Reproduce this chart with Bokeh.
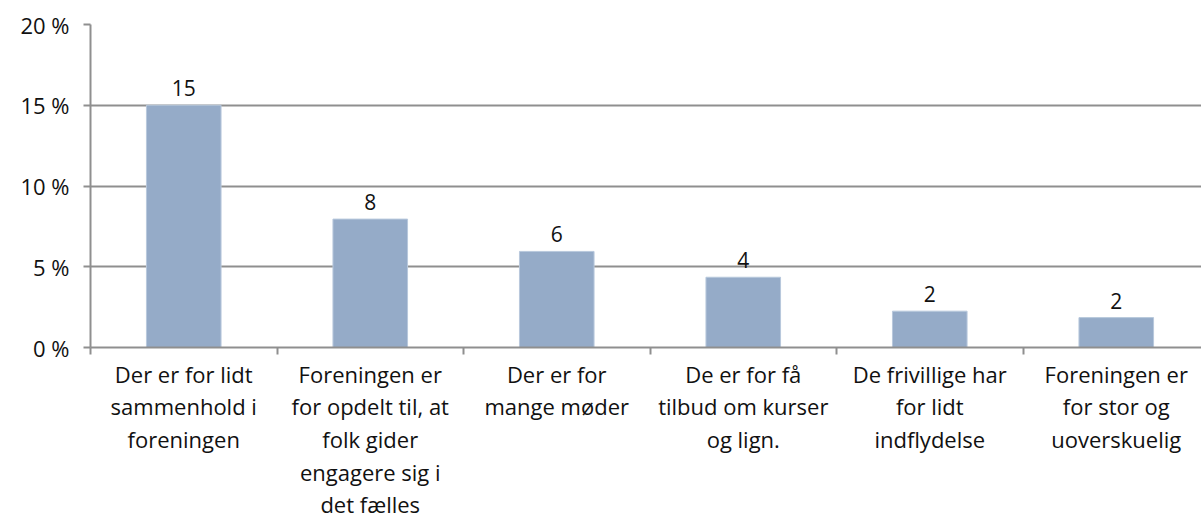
from bokeh.plotting import figure
from bokeh.models import Range1d, FixedTicker
from bokeh.core.properties import value
from bokeh.embed import file_html
from bokeh.resources import INLINE

categories = [
    "Der er for lidt\nsammenhold i\nforeningen",
    "Foreningen er\nfor opdelt til, at\nfolk gider\nengagere sig i\ndet fælles",
    "Der er for\nmange møder",
    "De er for få\ntilbud om kurser\nog lign.",
    "De frivillige har\nfor lidt\nindflydelse",
    "Foreningen er\nfor stor og\nuoverskuelig",
]
values = [15.0, 7.95, 5.95, 4.35, 2.25, 1.85]
y_ticks = [0, 5, 10, 15, 20]

FONT = "Open Sans"
GRID = "#8f8f8f"

n = len(categories)
xs = [i + 0.5 for i in range(n)]
labels = [str(int(round(v))) for v in values]

p = figure(width=1201, height=522, output_backend="svg", toolbar_location=None,
           x_range=Range1d(0, 5.957), y_range=Range1d(0, 20),
           min_border_left=90, min_border_top=24, min_border_right=0, min_border_bottom=160)
p.outline_line_color = None
p.xgrid.grid_line_color = None
p.ygrid.ticker = FixedTicker(ticks=[5, 10, 15, 20])
p.ygrid.grid_line_color = GRID
p.ygrid.grid_line_width = 2

p.vbar(x=xs, top=values, width=0.4, fill_color="#95abc8", line_color="#b8c8dc", line_width=1)
p.text(x=xs, y=values, text=labels, text_align="center", text_baseline="bottom",
       y_offset=-9, text_font=value(FONT), text_font_size="21px", text_color="#111111")

# x axis: labels at centres, tick marks at category boundaries
xa = p.xaxis[0]
xa.ticker = FixedTicker(ticks=xs, minor_ticks=list(range(n + 1)))
xa.major_label_overrides = {x: c for x, c in zip(xs, categories)}
xa.major_tick_line_color = None
xa.major_tick_out = 0
xa.major_tick_in = 0
xa.minor_tick_out = 7
xa.minor_tick_in = 0
xa.minor_tick_line_color = GRID
xa.minor_tick_line_width = 2
xa.axis_line_color = GRID
xa.axis_line_width = 2
xa.major_label_text_font = FONT
xa.major_label_text_font_size = "22px"
xa.major_label_text_color = "#111111"
xa.major_label_text_line_height = 1.09
xa.major_label_standoff = 4

ya = p.yaxis[0]
ya.ticker = FixedTicker(ticks=y_ticks, minor_ticks=[])
ya.major_label_overrides = {t: f"{t} %" for t in y_ticks}
ya.major_tick_out = 7
ya.major_tick_in = 0
ya.major_tick_line_color = GRID
ya.major_tick_line_width = 2
ya.axis_line_color = GRID
ya.axis_line_width = 2
ya.major_label_text_font = FONT
ya.major_label_text_font_size = "22px"
ya.major_label_text_color = "#111111"
ya.major_label_standoff = 14

open("out.html", "w").write(file_html(p, INLINE))
